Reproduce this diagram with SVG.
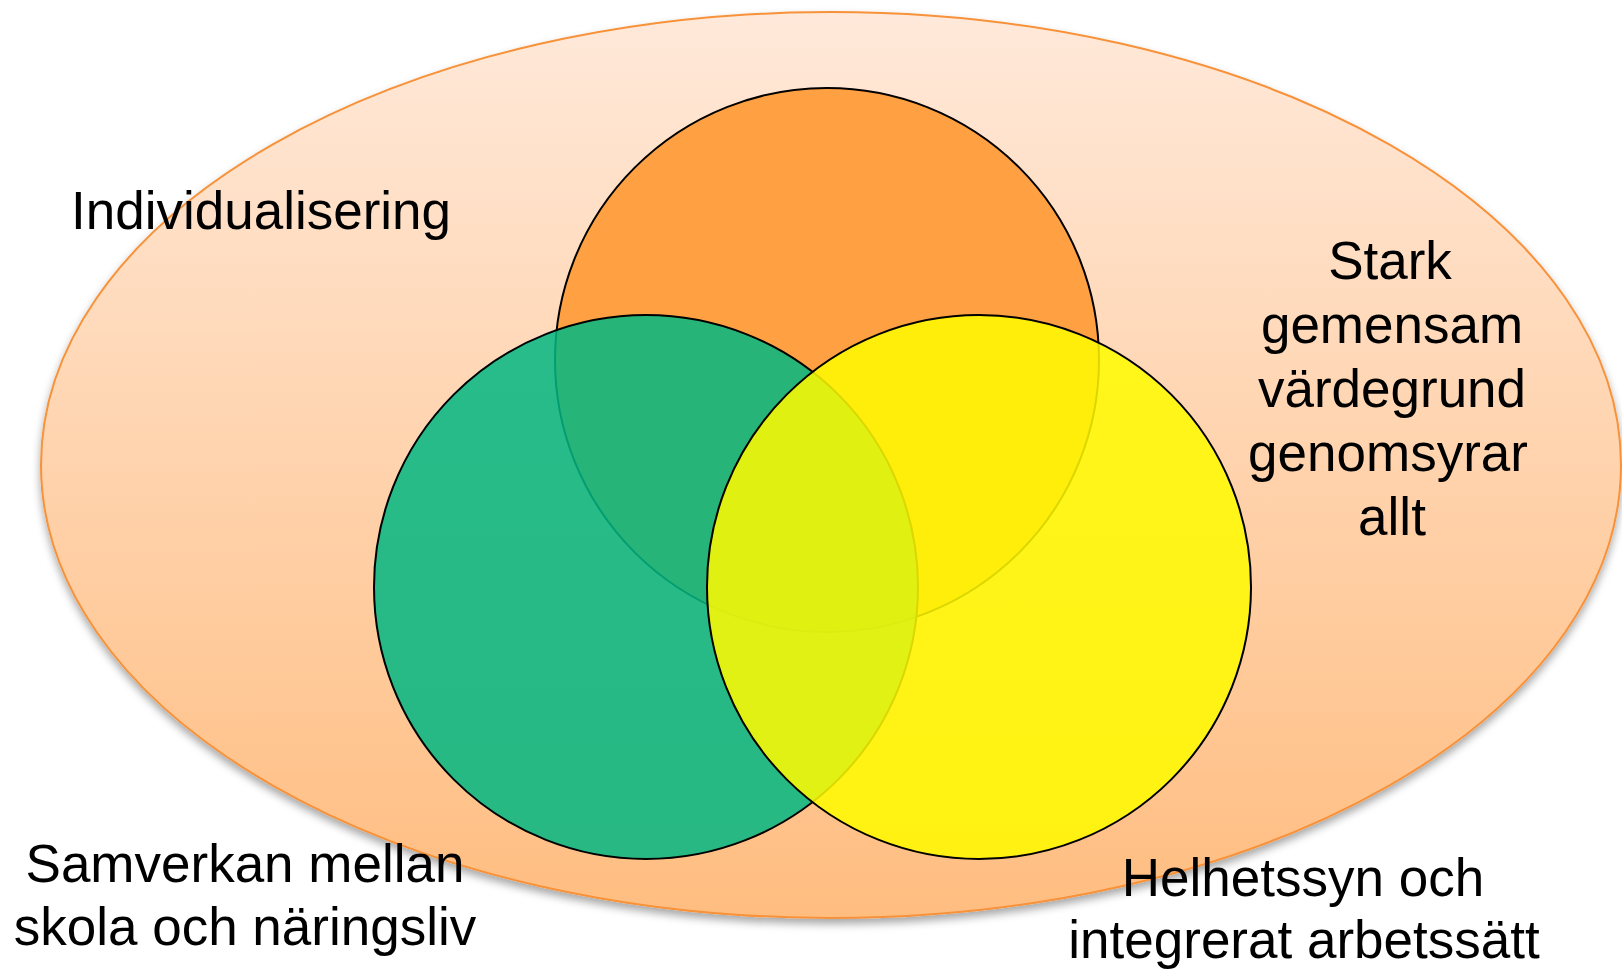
<svg xmlns="http://www.w3.org/2000/svg" width="1622" height="970" viewBox="0 0 1622 970">
<style>
.lbl{font-family:"Liberation Sans",Arial,sans-serif;font-size:53px;fill:#000}
.circ{stroke:#000;stroke-width:2}
</style>
<defs>
<linearGradient id="bg" x1="0" y1="0" x2="0" y2="1">
<stop offset="0" stop-color="#FFE9DA"/>
<stop offset="1" stop-color="#FFBD80"/>
</linearGradient>
<filter id="sh" x="-5%" y="-5%" width="110%" height="115%">
<feDropShadow dx="0" dy="5" stdDeviation="4" flood-color="#000" flood-opacity="0.35"/>
</filter>
</defs>
<rect width="1622" height="970" fill="#fff"/>
<g id="outer">
<ellipse cx="831" cy="465" rx="790" ry="453" fill="url(#bg)" stroke="#F7923A" stroke-width="2" filter="url(#sh)"/>
</g>
<g id="circle-orange">
<circle class="circ" cx="827" cy="360" r="272" fill="#FFA042"/>
</g>
<g id="circle-green">
<circle class="circ" cx="646" cy="587" r="272" fill="rgb(3,183,130)" fill-opacity="0.86"/>
</g>
<g id="circle-yellow">
<circle class="circ" cx="979" cy="587" r="272" fill="rgb(255,250,0)" fill-opacity="0.86"/>
</g>
<g id="connectors"></g>
<g id="label-individualisering">
<text class="lbl" x="71" y="229">Individualisering</text>
</g>
<g id="label-stark">
<text class="lbl" text-anchor="middle" x="1390" y="279">Stark</text>
<text class="lbl" text-anchor="middle" x="1392" y="343">gemensam</text>
<text class="lbl" text-anchor="middle" x="1392" y="407">värdegrund</text>
<text class="lbl" text-anchor="middle" x="1388" y="471">genomsyrar</text>
<text class="lbl" text-anchor="middle" x="1392" y="535">allt</text>
</g>
<g id="label-samverkan">
<text class="lbl" text-anchor="middle" x="245" y="882">Samverkan mellan</text>
<text class="lbl" text-anchor="middle" x="245" y="945">skola och näringsliv</text>
</g>
<g id="label-helhetssyn">
<text class="lbl" text-anchor="middle" x="1303" y="896">Helhetssyn och</text>
<text class="lbl" text-anchor="middle" x="1304" y="958">integrerat arbetssätt</text>
</g>
</svg>
